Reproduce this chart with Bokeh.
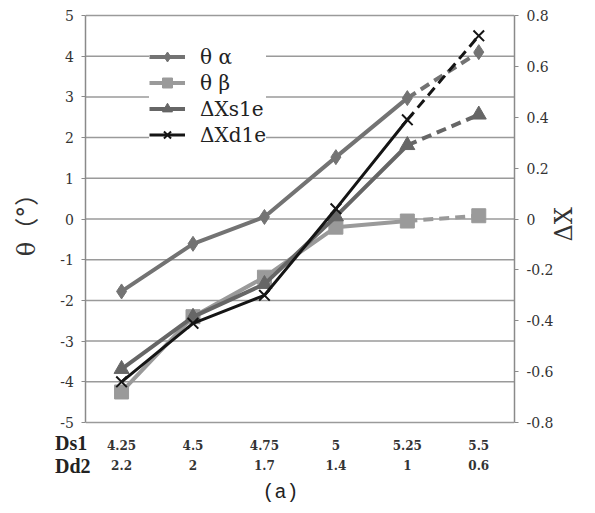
from bokeh.plotting import figure
from bokeh.models import Range1d, LinearAxis, FixedTicker, Legend, LegendItem, Title
from bokeh.embed import file_html
from bokeh.resources import INLINE
import math

# ---- data ----
row_names = ["Ds1", "Dd2"]
ds1_labels = ["4.25", "4.5", "4.75", "5", "5.25", "5.5"]
dd2_labels = ["2.2", "2", "1.7", "1.4", "1", "0.6"]
theta_alpha = [-1.78, -0.61, 0.05, 1.52, 2.97, 4.1]
theta_beta = [-4.25, -2.4, -1.43, -0.2, -0.05, 0.08]
dx_s1e = [-0.59, -0.385, -0.256, 0.01, 0.29, 0.41]
dx_d1e = [-0.64, -0.41, -0.30, 0.04, 0.39, 0.72]
left_ticks = [-5, -4, -3, -2, -1, 0, 1, 2, 3, 4, 5]
right_ticks = [-0.8, -0.6, -0.4, -0.2, 0, 0.2, 0.4, 0.6, 0.8]
right_tick_labels = ["-0.8", "-0.6", "-0.4", "-0.2", "0", "0.2", "0.4", "0.6", "0.8"]

idx = list(range(len(ds1_labels)))

# ---- layout constants (pixels) ----
W, H = 595, 513
F_LEFT, F_RIGHT, F_TOP, F_BOTTOM = 0, 518, 4, 478     # drawing frame
AX_X, AX_TOP, AX_Y = 86, 15, 422                       # visible plot box left / top / bottom
PX_X = (F_RIGHT - AX_X) / 6.0                          # pixels per category
PX_Y = (AX_Y - AX_TOP) / 10.0                          # pixels per theta unit
x_lo = -0.5 - (AX_X - F_LEFT) / PX_X
y_lo = -5 - (F_BOTTOM - AX_Y) / PX_Y
y_hi = 5 + (AX_TOP - F_TOP) / PX_Y
dx_lo = -0.8 - (F_BOTTOM - AX_Y) / PX_Y * 0.16
dx_hi = 0.8 + (AX_TOP - F_TOP) / PX_Y * 0.16

p = figure(width=W, height=H, output_backend="svg", toolbar_location=None,
           x_range=Range1d(x_lo, 5.5), y_range=Range1d(y_lo, y_hi),
           min_border_left=F_LEFT, min_border_right=W - F_RIGHT,
           min_border_top=F_TOP, min_border_bottom=H - F_BOTTOM,
           x_axis_location=None, y_axis_location=None)
p.extra_y_ranges = {"dx": Range1d(dx_lo, dx_hi)}

AX = "#8a8a8a"
SERIF = "DejaVu Serif"

p.outline_line_color = None
p.xgrid.visible = False
p.ygrid.visible = False

# horizontal grid lines (also top and bottom edge of the plot box)
p.segment(x0=[-0.5] * len(left_ticks), x1=[5.5] * len(left_ticks),
          y0=left_ticks, y1=left_ticks, line_color="#9a9a9a", line_width=1.5)

# left axis, fixed at the left edge of the plot box
la = LinearAxis(ticker=FixedTicker(ticks=left_ticks), axis_label="θ（°）",
                fixed_location=-0.5, bounds=(-5, 5))
la.axis_line_color = AX
la.axis_line_width = 1.5
la.major_tick_line_color = AX
la.major_tick_out = 4
la.major_tick_in = 0
la.minor_tick_line_color = None
la.major_label_standoff = 8
la.major_label_text_font = SERIF
la.major_label_text_font_size = "14px"
la.major_label_text_color = "#333333"
la.major_label_overrides = {t: str(t) for t in left_ticks}
la.axis_label_text_font = "DejaVu Serif, Noto Sans CJK SC"
la.axis_label_text_font_size = "24px"
la.axis_label_text_font_style = "normal"
la.axis_label_text_color = "#333333"
la.axis_label_standoff = 16
p.add_layout(la, "left")

# right axis
ra = LinearAxis(y_range_name="dx", ticker=FixedTicker(ticks=right_ticks), axis_label="ΔX",
                bounds=(-0.8, 0.8))
ra.axis_line_color = AX
ra.axis_line_width = 1.5
ra.major_tick_line_color = AX
ra.major_tick_out = 4
ra.major_tick_in = 0
ra.minor_tick_line_color = None
ra.major_label_standoff = 8
ra.major_label_text_font = SERIF
ra.major_label_text_font_size = "14px"
ra.major_label_text_color = "#333333"
ra.major_label_overrides = dict(zip(right_ticks, right_tick_labels))
ra.axis_label_text_font = SERIF
ra.axis_label_text_font_size = "24px"
ra.axis_label_text_font_style = "normal"
ra.axis_label_text_color = "#333333"
ra.axis_label_standoff = 8
try:
    ra.axis_label_orientation = math.pi / 2
except Exception:
    pass
p.add_layout(ra, "right")

# bottom axes (two rows of category labels), fixed at the bottom of the plot box
xb1 = LinearAxis(ticker=FixedTicker(ticks=idx), fixed_location=-5)
xb1.major_label_overrides = dict(zip(idx, ds1_labels))
xb2 = LinearAxis(ticker=FixedTicker(ticks=idx), fixed_location=-5)
xb2.major_label_overrides = dict(zip(idx, dd2_labels))
for ax, st in ((xb1, 17), (xb2, 37)):
    ax.axis_line_color = None
    ax.major_tick_line_color = None
    ax.minor_tick_line_color = None
    ax.major_tick_out = 0
    ax.major_tick_in = 0
    ax.major_label_standoff = st
    ax.major_label_text_font = SERIF
    ax.major_label_text_font_size = "12px"
    ax.major_label_text_font_style = "bold"
    ax.major_label_text_color = "#333333"
    p.add_layout(ax, "below")

p.add_layout(Title(text="(a)", align="left", offset=262, text_font="Liberation Mono",
                   text_font_size="20px", text_font_style="normal", text_color="#222222",
                   standoff=0), "below")

# series
def series(y, color, marker, size, lw, fill, range_name=None, mlw=1.0):
    kw = {} if range_name is None else {"y_range_name": range_name}
    r1 = p.line(idx[:5], y[:5], line_color=color, line_width=lw, **kw)
    p.line(idx[4:], y[4:], line_color=color, line_width=lw, line_dash="10 6", **kw)
    r3 = p.scatter(idx, y, marker=marker, size=size, fill_color=fill,
                   line_color=color, line_width=mlw, **kw)
    return [r1, r3]

ra_r = series(theta_alpha, "#737373", "diamond", 15, 4, "#737373")
rb_r = series(theta_beta, "#9a9a9a", "square", 14, 4, "#9a9a9a")
rs_r = series(dx_s1e, "#666666", "triangle", 15, 4, "#666666", "dx")
rd_r = series(dx_d1e, "#151515", "x", 15, 3, None, "dx", mlw=2)

legend = Legend(items=[
    LegendItem(label="θ α", renderers=ra_r),
    LegendItem(label="θ β", renderers=rb_r),
    LegendItem(label="ΔXs1e", renderers=rs_r),
    LegendItem(label="ΔXd1e", renderers=rd_r),
], location=(149, 331))
legend.border_line_color = None
legend.background_fill_color = "white"
legend.background_fill_alpha = 1.0
legend.label_text_font = SERIF
legend.label_text_font_size = "20px"
legend.label_text_color = "#222222"
legend.glyph_width = 36
legend.glyph_height = 25
legend.label_height = 25
legend.spacing = 1
legend.padding = 8
legend.label_standoff = 15
p.add_layout(legend)

# row names of the two label rows, as a glyph-less legend at the lower left
dummy = p.scatter([], [], size=0, fill_alpha=0, line_alpha=0)
rows = Legend(items=[LegendItem(label=n, renderers=[dummy]) for n in row_names],
              location=(55, 0))
rows.border_line_color = None
rows.background_fill_alpha = 0
rows.glyph_width = 0
rows.glyph_height = 20
rows.label_height = 20
rows.label_standoff = 0
rows.spacing = 0
rows.padding = 0
rows.margin = 0
rows.label_text_font = "Liberation Serif"
rows.label_text_font_size = "20px"
rows.label_text_font_style = "bold"
rows.label_text_color = "#222222"
p.add_layout(rows)

open("out.html", "w").write(file_html(p, INLINE))
